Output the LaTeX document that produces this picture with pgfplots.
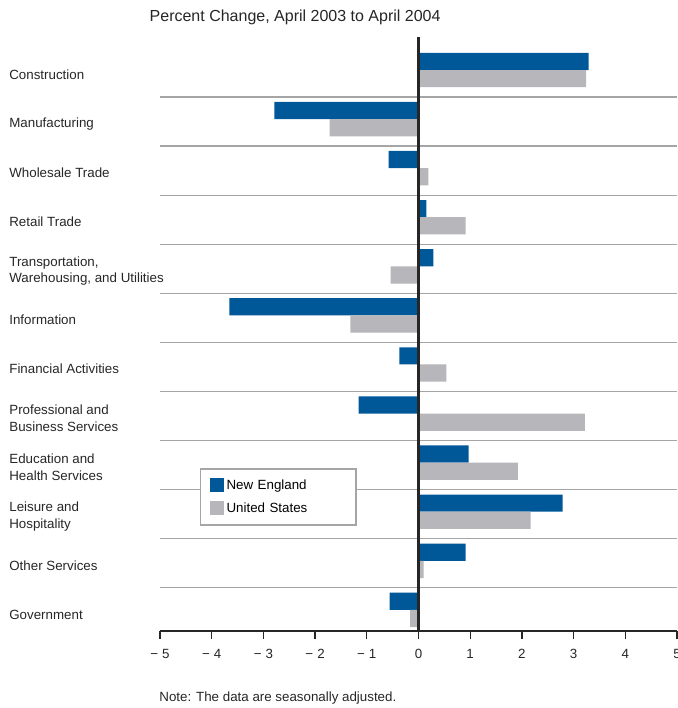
\documentclass[border=0pt]{standalone}
\usepackage{pgfplots}
\pgfplotsset{compat=1.18}
\usepackage{fontspec}
\setmainfont{Liberation Sans}
\definecolor{neblue}{RGB}{0,88,152}
\definecolor{usgray}{RGB}{182,182,187}
\definecolor{gridgray}{RGB}{165,165,165}
\begin{document}
\begin{tikzpicture}
\begin{axis}[
  scale only axis, width=387.75pt, height=441pt,
  xmin=-5, xmax=5, ymin=-0.55, ymax=11.43, y dir=reverse,
  clip=false,
  axis x line=bottom, axis y line=left,
  x axis line style={-, line width=1.5pt, black!85},
  y axis line style={draw=none},
  xtick={-5,...,5},
  xticklabels={−\hspace{3pt}5,−\hspace{3pt}4,−\hspace{3pt}3,−\hspace{3pt}2,−\hspace{3pt}1,0,1,2,3,4,5},
  tick align=outside,
  major tick length=6pt,
  xtick style={black!85, line width=1pt},
  x tick label style={font=\fontsize{10}{12}\selectfont, yshift=-4pt, text=black!85},
  ytick={0,...,11},
  ytick style={draw=none},
  minor ytick={0.55,1.55,...,10.55},
  minor tick style={draw=none},
  yminorgrids=true, ymajorgrids=false, xmajorgrids=false,
  minor grid style={gridgray, line width=0.9pt},
  yticklabels={Construction, Manufacturing, Wholesale Trade, Retail Trade,
    {Transportation,\\Warehousing, and Utilities}, Information, Financial Activities,
    {Professional and\\Business Services}, {Education and\\Health Services},
    {Leisure and\\Hospitality}, Other Services, Government},
  y tick label style={anchor=west, align=left, xshift=-110.5pt, yshift=-3.5pt,
    font=\fontsize{10}{12.5}\selectfont, text=black!85},
  legend style={at={(0.077,0.277)}, anchor=north west, draw=gridgray, line width=1.2pt,
    fill=white, font=\fontsize{10}{12}\selectfont, inner xsep=7pt, inner ysep=6pt,
    text width=88pt, row sep=4.5pt},
  legend cell align=left,
  legend image code/.code={\fill[#1] (0pt,-5pt) rectangle (10.5pt,5.5pt);},
]
\addplot[xbar, bar width=0.35, bar shift=-0.175, fill=neblue, draw=none] coordinates {
  (3.29,0) (-2.79,1) (-0.58,2) (0.15,3) (0.29,4) (-3.66,5)
  (-0.37,6) (-1.16,7) (0.97,8) (2.79,9) (0.91,10) (-0.56,11)};
\addlegendentry{New England}
\addplot[xbar, bar width=0.35, bar shift=0.175, fill=usgray, draw=none] coordinates {
  (3.24,0) (-1.72,1) (0.19,2) (0.91,3) (-0.54,4) (-1.32,5)
  (0.54,6) (3.22,7) (1.92,8) (2.17,9) (0.10,10) (-0.16,11)};
\addlegendentry{United States}
\draw[line width=1.6pt, black!85] (axis cs:0,-0.67) -- (axis cs:0,11.43);
\coordinate (SW) at (rel axis cs:0,0);
\coordinate (NE) at (rel axis cs:1,1);
\node[anchor=west, font=\fontsize{12}{14}\selectfont, text=black!85] at ([xshift=-11.25pt,yshift=19pt]rel axis cs:0,1) {Percent Change, April 2003 to April 2004};
\node[anchor=west, font=\fontsize{10}{12}\selectfont, text=black!85] at ([xshift=-4pt,yshift=-50pt]rel axis cs:0,0) {Note: The data are seasonally adjusted.};
\end{axis}
\pgfresetboundingbox
\path[use as bounding box] ([xshift=-120pt,yshift=-57.75pt]SW) rectangle ([yshift=32.25pt]NE);
\end{tikzpicture}
\end{document}
